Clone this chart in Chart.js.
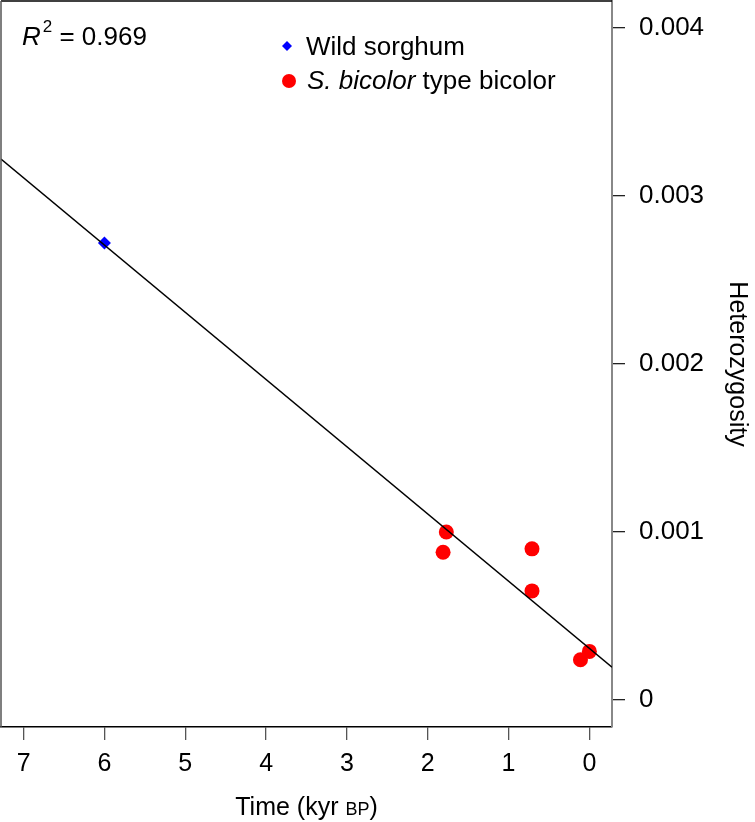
<!DOCTYPE html>
<html>
<head>
<meta charset="utf-8">
<script src="https://cdn.jsdelivr.net/npm/chart.js@4.4.1/dist/chart.umd.min.js"></script>
<style>
  html, body { margin: 0; padding: 0; background: #fff; }
  #wrap { width: 755px; height: 822px; }
</style>
</head>
<body>
<div id="wrap"><canvas id="hetChart"></canvas></div>
<script>
// values
const wildTime = [6.0];
const wildHet = [0.00272];
const bicolorTime = [1.77, 1.81, 0.71, 0.71, 0.0, 0.11];
const bicolorHet = [0.00100, 0.00088, 0.00090, 0.00065, 0.00029, 0.00024];
const xTicks = [0, 1, 2, 3, 4, 5, 6, 7];
const yTicks = [0, 0.001, 0.002, 0.003, 0.004];
const yTickLabels = ["0", "0.001", "0.002", "0.003", "0.004"];
const fitIntercept = 0.000308;
const fitSlope = 0.0004;
const rSquared = "0.969";

const xMin = -0.28, xMax = 7.28;
const yMin = -0.00016, yMax = 0.00416;
const FONT = "'Liberation Sans', Arial, Helvetica, sans-serif";

const fitLine = [xMin, xMax].map((t) => ({ x: t, y: fitIntercept + fitSlope * t }));

function noPadding(scale) {
  scale.paddingLeft = 0;
  scale.paddingRight = 0;
  scale.paddingTop = 0;
  scale.paddingBottom = 0;
}

const annotations = {
  id: "annotations",
  afterDraw(chart) {
    const ctx = chart.ctx;
    const area = chart.chartArea;
    ctx.save();

    // top and left frame
    ctx.strokeStyle = "#000";
    ctx.lineWidth = 1.5;
    ctx.beginPath();
    ctx.moveTo(area.left, area.top);
    ctx.lineTo(area.right, area.top);
    ctx.stroke();
    ctx.strokeStyle = "#555";
    ctx.beginPath();
    ctx.moveTo(area.left, area.top);
    ctx.lineTo(area.left, area.bottom);
    ctx.stroke();

    ctx.fillStyle = "#000";
    ctx.textBaseline = "alphabetic";
    ctx.textAlign = "left";

    // R^2 label
    let x = area.left + 21;
    ctx.font = "italic 26px " + FONT;
    ctx.fillText("R", x, area.top + 44);
    x += ctx.measureText("R").width + 2;
    ctx.font = "17px " + FONT;
    ctx.fillText("2", x, area.top + 31);
    x += ctx.measureText("2").width;
    ctx.font = "26px " + FONT;
    ctx.fillText(" = " + rSquared, x, area.top + 44);

    // legend
    const lx = area.left + 286;
    ctx.fillStyle = "#0000ff";
    ctx.beginPath();
    ctx.moveTo(lx - 5, area.top + 45);
    ctx.lineTo(lx, area.top + 40);
    ctx.lineTo(lx + 5, area.top + 45);
    ctx.lineTo(lx, area.top + 50);
    ctx.closePath();
    ctx.fill();
    ctx.fillStyle = "#ff0000";
    ctx.beginPath();
    ctx.arc(lx + 2, area.top + 80, 7, 0, Math.PI * 2);
    ctx.fill();

    ctx.fillStyle = "#000";
    ctx.font = "26px " + FONT;
    ctx.fillText("Wild sorghum", lx + 19, area.top + 54);
    ctx.font = "italic 26px " + FONT;
    x = lx + 20;
    ctx.fillText("S. bicolor", x, area.top + 88);
    x += ctx.measureText("S. bicolor").width;
    ctx.font = "26px " + FONT;
    ctx.fillText(" type bicolor", x, area.top + 88);

    // x axis title with small caps BP
    const parts = [["Time (kyr ", "25px "], ["BP", "18px "], [")", "25px "]];
    let total = 0;
    parts.forEach((p) => { ctx.font = p[1] + FONT; total += ctx.measureText(p[0]).width; });
    x = (area.left + area.right) / 2 - total / 2;
    parts.forEach((p) => {
      ctx.font = p[1] + FONT;
      ctx.fillText(p[0], x, area.bottom + 88);
      x += ctx.measureText(p[0]).width;
    });
    ctx.restore();
  },
};

new Chart(document.getElementById("hetChart"), {
  type: "scatter",
  data: {
    datasets: [
      {
        type: "line",
        data: fitLine,
        borderColor: "#000",
        borderWidth: 1.5,
        pointRadius: 0,
        fill: false,
      },
      {
        label: "Wild sorghum",
        data: wildTime.map((t, i) => ({ x: t, y: wildHet[i] })),
        pointStyle: "rectRot",
        pointRadius: 6.5,
        backgroundColor: "#0000ff",
        borderWidth: 0,
      },
      {
        label: "S. bicolor type bicolor",
        data: bicolorTime.map((t, i) => ({ x: t, y: bicolorHet[i] })),
        pointStyle: "circle",
        pointRadius: 7.5,
        backgroundColor: "#ff0000",
        borderWidth: 0,
      },
    ],
  },
  options: {
    responsive: true,
    maintainAspectRatio: false,
    animation: false,
    layout: { autoPadding: false, padding: { top: 1, left: 1, right: 0, bottom: 0 } },
    plugins: {
      legend: { display: false },
      tooltip: { enabled: false },
    },
    scales: {
      x: {
        type: "linear",
        reverse: true,
        min: xMin,
        max: xMax,
        afterBuildTicks: (scale) => { scale.ticks = xTicks.map((v) => ({ value: v })); },
        afterFit: (scale) => { scale.height = 95; noPadding(scale); },
        grid: { drawOnChartArea: false, tickLength: 13, color: "#555", lineWidth: 1.3 },
        border: { color: "#000", width: 1.5 },
        ticks: {
          font: { family: FONT, size: 25 },
          color: "#000",
          padding: 9,
          maxRotation: 0,
          callback: (v) => String(v),
        },
      },
      y: {
        type: "linear",
        position: "right",
        min: yMin,
        max: yMax,
        afterBuildTicks: (scale) => { scale.ticks = yTicks.map((v) => ({ value: v })); },
        afterFit: (scale) => { scale.width = 143; noPadding(scale); },
        grid: { drawOnChartArea: false, tickLength: 13, color: "#222", lineWidth: 1.3 },
        border: { color: "#888", width: 2 },
        ticks: {
          font: { family: FONT, size: 26 },
          color: "#000",
          padding: 14,
          callback: (v) => yTickLabels[yTicks.indexOf(v)] ?? "",
        },
        title: {
          display: true,
          text: "Heterozygosity",
          color: "#000",
          font: { family: FONT, size: 25 },
          padding: { top: 3, bottom: 0 },
        },
      },
    },
  },
  plugins: [annotations],
});
</script>
</body>
</html>
